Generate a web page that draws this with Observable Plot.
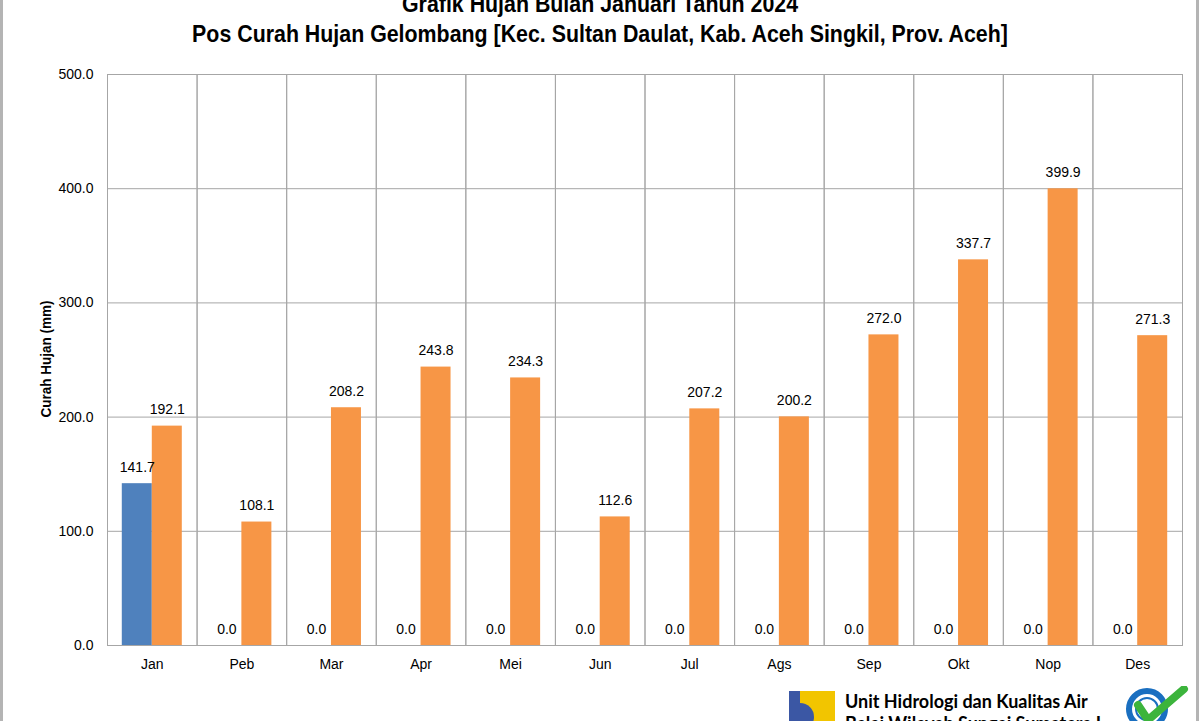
<!DOCTYPE html>
<html>
<head>
<meta charset="utf-8">
<script src="https://cdn.jsdelivr.net/npm/d3@7"></script>
<script src="https://cdn.jsdelivr.net/npm/@observablehq/plot@0.6"></script>
<style>
  html, body { margin:0; padding:0; background:#fff; }
  #wrap { position:relative; width:1200px; height:721px; overflow:hidden; background:#fff; }
  #frameL { position:absolute; left:0; top:0; width:3px; height:721px; background:#b4b4b4; }
  #frameR { position:absolute; left:1196px; top:0; width:3px; height:721px; background:#b4b4b4; }
  .title { position:absolute; left:0; width:1200px; text-align:center; font-family:"Liberation Sans",Arial,sans-serif; font-weight:bold; font-size:24px; color:#000; white-space:nowrap; transform:scaleX(0.89); transform-origin:600px 50%; }
  #ylabel { position:absolute; left:45px; top:359px; transform:translate(-50%,-50%) rotate(-90deg) scaleX(0.9); font-family:"Liberation Sans",Arial,sans-serif; font-weight:bold; font-size:15px; white-space:nowrap; }
  #chart { position:absolute; left:0; top:0; }
  #footer { position:absolute; left:845px; top:690px; font-family:Lato,"Open Sans",sans-serif; font-weight:bold; font-size:18px; line-height:22px; color:#000; white-space:nowrap; }
  #logo1 { position:absolute; left:789px; top:691px; }
  #logo2 { position:absolute; left:1124px; top:686px; }
</style>
</head>
<body>
<div id="wrap">
  <div id="chart"></div>
  <div class="title" style="top:-10px">Grafik Hujan Bulan Januari Tahun 2024</div>
  <div class="title" style="top:20px">Pos Curah Hujan Gelombang [Kec. Sultan Daulat, Kab. Aceh Singkil, Prov. Aceh]</div>
  <div id="ylabel">Curah Hujan (mm)</div>
  <div id="logo1"><svg width="46" height="40"><rect x="0" y="0" width="46" height="40" fill="#f2c500"/><rect x="0" y="0" width="11" height="40" fill="#3b57a4"/><path d="M11 12 A14 14 0 0 1 11 40 Z" fill="#3b57a4"/></svg></div>
  <div id="footer">Unit Hidrologi dan Kualitas Air<br>Balai Wilayah Sungai Sumatera I</div>
  <div id="logo2"><svg width="70" height="40"><circle cx="23" cy="23" r="18" fill="none" stroke="#1a6fc0" stroke-width="6"/><circle cx="23" cy="23" r="11" fill="none" stroke="#1a6fc0" stroke-width="2"/><path d="M14 19 L24 34 L60 3" fill="none" stroke="#3cb43c" stroke-width="8" stroke-linecap="round" stroke-linejoin="round"/></svg></div>
  <div id="frameL"></div>
  <div id="frameR"></div>
</div>
<script>
const months = ["Jan","Peb","Mar","Apr","Mei","Jun","Jul","Ags","Sep","Okt","Nop","Des"];
const seriesNames = ["Hujan 2024","Rata-rata"];
const hujan2024 = [141.7,0,0,0,0,0,0,0,0,0,0,0];
const rataRata = [192.1,108.1,208.2,243.8,234.3,112.6,207.2,200.2,272.0,337.7,399.9,271.3];
const yTicks = [0,100,200,300,400,500];
const colors = ["#4f81bd","#f79646"];

const data = months.flatMap((m,i) => [
  {month:m, series:seriesNames[0], value:hujan2024[i]},
  {month:m, series:seriesNames[1], value:rataRata[i]}
]);

const font = "'Liberation Sans',Arial,sans-serif";
const chart = Plot.plot({
  width:1200, height:700,
  marginLeft:107, marginRight:18, marginTop:74, marginBottom:55,
  style:{fontFamily:font, fontSize:"14px", color:"#000", background:"transparent", overflow:"visible"},
  facet:{data, x:"month"},
  fx:{domain:months, padding:0, round:false, label:null, axis:"bottom", tickSize:0, tickPadding:14},
  x:{domain:seriesNames, paddingInner:0, paddingOuter:0.493, round:false, axis:null},
  y:{domain:[0,500], ticks:yTicks, tickFormat:d=>d.toFixed(1), tickSize:0, tickPadding:14, label:null},
  color:{domain:seriesNames, range:colors},
  marks:[
    Plot.ruleY(yTicks, {stroke:"#a6a6a6", strokeWidth:1}),
    Plot.frame({stroke:"#a6a6a6", strokeWidth:1}),
    Plot.barY(data, {x:"series", y:"value", fill:"series"}),
    Plot.text(data, {x:"series", y:"value", text:d=>d.value.toFixed(1), dy:-12, lineAnchor:"bottom", fill:"#000", fontSize:14})
  ]
});
document.getElementById("chart").appendChild(chart);
</script>
</body>
</html>
